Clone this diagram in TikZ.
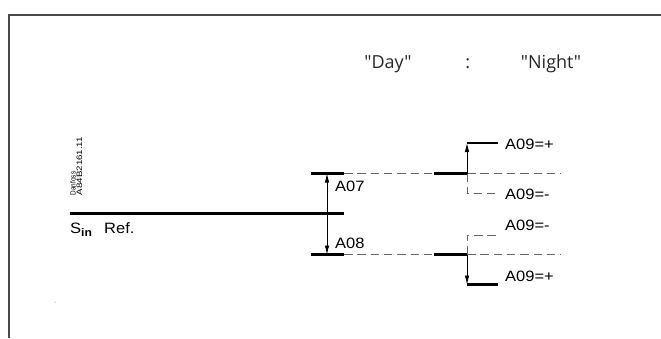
\documentclass[tikz,border=0pt]{standalone}
\usepackage{fontspec}
\usetikzlibrary{arrows.meta}
\newfontfamily\lblfont[FakeStretch=1.1]{Liberation Sans}
\newfontfamily\plainsans{Liberation Sans}
\newfontfamily\hdfont{Open Sans}
\definecolor{dashgray}{HTML}{666666}
\definecolor{framegray}{HTML}{4A4A4A}
\begin{document}
\begin{tikzpicture}[x=1pt,y=-1pt,
  >={Latex[length=9pt,width=4.5pt]},
  thickline/.style={line width=2.3pt,black},
  dashline/.style={line width=1pt,dashgray,dash pattern=on 8.5pt off 4.8pt},
  arrline/.style={line width=0.8pt,black},
  lbl/.style={inner sep=0pt,anchor=west,font=\lblfont\fontsize{15}{17}\selectfont},
  hd/.style={inner sep=0pt,anchor=base,font=\hdfont\fontsize{18}{20}\selectfont,text=black!85}]
\useasboundingbox (0,0) rectangle (661,338);
% frame
\draw[framegray,line width=1.5pt] (9,338) -- (9,15) -- (661,15);
% header
\node[hd] (day) at (388,68.3) {"Day"};
\node[hd] (colon) at (467.7,68.3) {:};
\node[hd] (night) at (551,68.3) {"Night"};
% coordinates
\coordinate (refL) at (69.5,213.5);
\coordinate (refR) at (344,213.5);
\coordinate (a07L) at (311,173.5);
\coordinate (a07R) at (344,173.5);
\coordinate (a07nL) at (434,173.5);
\coordinate (a07nR) at (467,173.5);
\coordinate (a07end) at (561,173.5);
\coordinate (a08L) at (311,254.5);
\coordinate (a08R) at (344,254.5);
\coordinate (a08nL) at (434,254.5);
\coordinate (a08nR) at (467,254.5);
\coordinate (a08end) at (561,254.5);
\coordinate (arrTop) at (327,173.5);
\coordinate (arrBot) at (327,254.5);
\coordinate (upTop) at (467,143);
\coordinate (upTopR) at (498,143);
\coordinate (upDash) at (467,193.5);
\coordinate (upDashR) at (498,193.5);
\coordinate (dnDash) at (467,235);
\coordinate (dnDashR) at (498,235);
\coordinate (dnBot) at (467,284.5);
\coordinate (dnBotR) at (498,284.5);
% reference line
\draw[thickline] (refL) -- (refR);
% A07 level
\draw[thickline] (a07L) -- (a07R);
\draw[dashline] (a07R) -- (a07nL);
\draw[thickline] (a07nL) -- (a07nR);
\draw[dashline] (a07nR) -- (a07end);
% A08 level
\draw[thickline] (a08L) -- (a08R);
\draw[dashline] (a08R) -- (a08nL);
\draw[thickline] (a08nL) -- (a08nR);
\draw[dashline] (a08nR) -- (a08end);
% day arrow
\draw[arrline,<->] (arrTop) -- (arrBot);
% night upper
\draw[dashline] (a07nR) -- (upDash) -- (upDashR);
\draw[arrline,->] (a07nR) -- (upTop);
\draw[thickline] (upTop) -- (upTopR);
% night lower
\draw[dashline] (a08nR) -- (dnDash) -- (dnDashR);
\draw[arrline,->] (a08nR) -- (dnBot);
\draw[thickline] (dnBot) -- (dnBotR);
% labels
\node[lbl] (a07) at (335,186) {A07};
\node[lbl] (a08) at (335,243) {A08};
\node[lbl] (n1) at (505,144) {A09=+};
\node[lbl] (n2) at (505,194) {A09=-};
\node[lbl] (n3) at (505,225) {A09=-};
\node[lbl] (n4) at (505,276) {A09=+};
% S_in Ref.
\node[inner sep=0pt,anchor=base west,font=\lblfont\fontsize{15}{17}\selectfont] (sin) at (70,233)
  {S\raisebox{-3.5pt}{\fontsize{11}{11}\selectfont\bfseries in}};
\node[inner sep=0pt,anchor=base west,font=\lblfont\fontsize{15}{17}\selectfont] (ref) at (104,233) {Ref.};
% Danfoss code
\node[inner sep=0pt,rotate=90] (danf) at (73,183.5) {\resizebox{23.5pt}{5.5pt}{\plainsans Danfoss}};
\node[inner sep=0pt,rotate=90] (code) at (79.5,166) {\resizebox{58pt}{5.5pt}{\plainsans A84B2161.11}};
% stray dot
\fill[black!60] (55,302) circle (0.5pt);
\end{tikzpicture}
\end{document}
